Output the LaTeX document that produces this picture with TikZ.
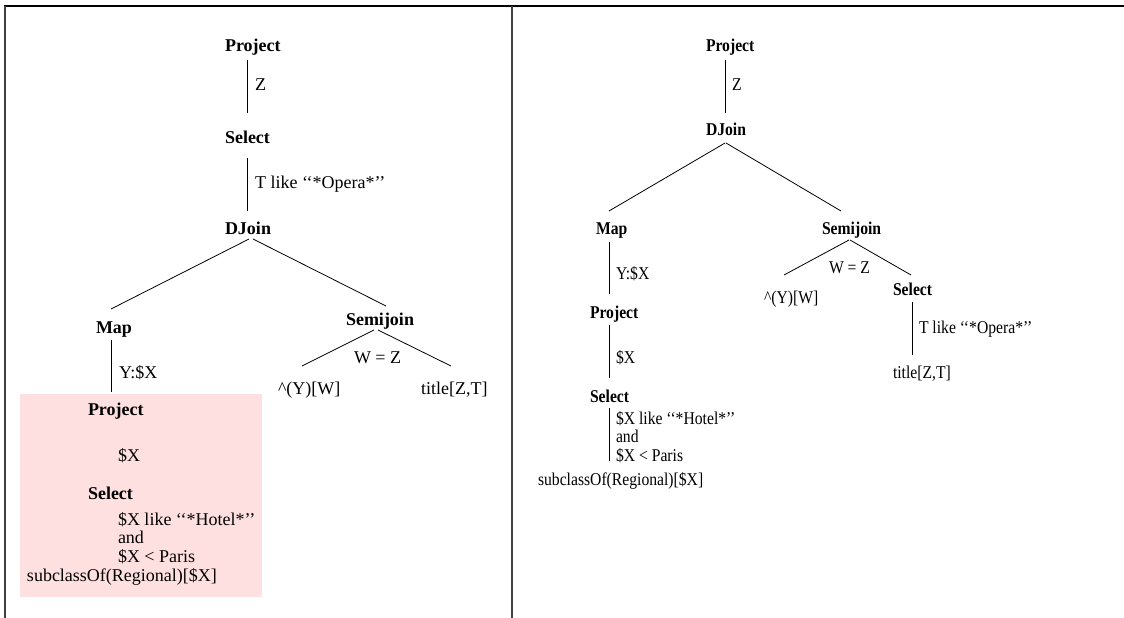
\documentclass[tikz,border=0pt]{standalone}
\usepackage{fontspec}
\setmainfont{Liberation Serif}
\newfontfamily\rfont{Liberation Serif}[FakeStretch=0.87]
\usetikzlibrary{calc}
\definecolor{pinkbg}{RGB}{255,224,224}
\tikzset{
  txt/.style={anchor=base west, inner sep=0pt, outer sep=0pt, font=\fontsize{18}{18.5}\selectfont},
  op/.style={txt, font=\fontsize{18}{18.5}\selectfont\bfseries},
  rtxt/.style={anchor=base west, inner sep=0pt, outer sep=0pt, font=\rfont\fontsize{18}{18.5}\selectfont},
  rop/.style={rtxt, font=\rfont\fontsize{18}{18.5}\selectfont\bfseries},
  edge/.style={draw=black, line width=0.8pt},
  frame/.style={draw=black, line width=1.5pt},
  vframe/.style={draw=black!75, line width=1.1pt}
}
\begin{document}
\begin{tikzpicture}[x=1pt,y=-1pt]
\useasboundingbox (0,0) rectangle (1124,618);
% frame
\coordinate (ftl) at (4,6);
\coordinate (ftr) at (1124,6);
\coordinate (flt) at (5,6);
\coordinate (flb) at (5,618);
\coordinate (fmt) at (512,6);
\coordinate (fmb) at (512,618);
\draw[frame] (ftl) -- (ftr);
\draw[vframe] (flt) -- (flb);
\draw[vframe] (fmt) -- (fmb);

% ---------------- left panel ----------------
\node (hl) [fill=pinkbg, minimum width=242pt, minimum height=203pt, anchor=north west, inner sep=0pt] at (20,394) {};

\node[op]  (lp)  at (225,52)  {Project};
\node[txt] (lz)  at (255,90)  {Z};
\node[op]  (ls)  at (225,143) {Select};
\node[txt] (lt)  at (255,188) {T like {‘}{‘}*Opera*{’}{’}};
\node[op]  (ldj) at (225,234) {DJoin};
\node[op]  (lm)  at (96,333)  {Map};
\node[txt] (lyx) at (119,378) {Y:\$X};
\node[op]  (lsj) at (346,325) {Semijoin};
\node[txt] (lwz) at (354,363) {W = Z};
\node[txt] (lyw) at (278,394) {\textasciicircum(Y)[W]};
\node[txt] (ltt) at (421,394) {title[Z,T]};

\node[op]  (lp2) at (88,415)  {Project};
\node[txt] (lx2) at (118,461) {\$X};
\node[op]  (ls2) at (88,499)  {Select};
\node[txt] (lc1) at (118,525) {\$X like {‘}{‘}*Hotel*{’}{’}};
\node[txt] (lc2) at (118,543) {and};
\node[txt] (lc3) at (118,562) {\$X < Paris};
\node[txt] (lsc) at (27,581)  {subclassOf(Regional)[\$X]};

\draw[edge] ($(lp.base west)+(22,8)$)  -- ($(ls.base west)+(22,-30)$);
\draw[edge] ($(ls.base west)+(22,15)$) -- ($(ldj.base west)+(22,-23)$);
\draw[edge] ($(ldj.base west)+(24,5)$) -- ($(lm.base west)+(15,-24)$);
\draw[edge] ($(ldj.base west)+(28,5)$) -- ($(lsj.base west)+(40,-19)$);
\draw[edge] ($(lm.base west)+(15,7)$)  -- ($(lp2.base west)+(23,-23)$);
\draw[edge] ($(lsj.base west)+(28,5)$) -- ($(lyw.base west)+(24,-28)$);
\draw[edge] ($(lsj.base west)+(32,5)$) -- ($(ltt.base west)+(30,-28)$);

% ---------------- right panel ----------------
\node[rop]  (rp)  at (706,52)  {Project};
\node[rtxt] (rz)  at (732,90)  {Z};
\node[rop]  (rdj) at (706,135) {DJoin};
\node[rop]  (rm)  at (596,234) {Map};
\node[rop]  (rsj) at (822,234) {Semijoin};
\node[rtxt] (ryx) at (616,279) {Y:\$X};
\node[rtxt] (rwz) at (829,273) {W = Z};
\node[rtxt] (ryw) at (764,303) {\textasciicircum(Y)[W]};
\node[rop]  (rs)  at (893,295) {Select};
\node[rtxt] (rt)  at (919,333) {T like {‘}{‘}*Opera*{’}{’}};
\node[rtxt] (rtt) at (893,378) {title[Z,T]};
\node[rop]  (rp2) at (590,318) {Project};
\node[rtxt] (rx2) at (616,363) {\$X};
\node[rop]  (rs2) at (590,402) {Select};
\node[rtxt] (rc1) at (616,424) {\$X like {‘}{‘}*Hotel*{’}{’}};
\node[rtxt] (rc2) at (616,442) {and};
\node[rtxt] (rc3) at (616,461) {\$X < Paris};
\node[rtxt] (rsc) at (538,485) {subclassOf(Regional)[\$X]};

\draw[edge] ($(rp.base west)+(19,8)$)  -- ($(rdj.base west)+(19,-22)$);
\draw[edge] ($(rdj.base west)+(19,8)$) -- ($(rm.base west)+(13,-23)$);
\draw[edge] ($(rdj.base west)+(20,8)$) -- ($(rsj.base west)+(19,-23)$);
\draw[edge] ($(rm.base west)+(13,8)$)  -- ($(rp2.base west)+(19,-24)$);
\draw[edge] ($(rsj.base west)+(27,6)$) -- ($(ryw.base west)+(20,-28)$);
\draw[edge] ($(rsj.base west)+(28,6)$) -- ($(rs.base west)+(18,-20)$);
\draw[edge] ($(rs.base west)+(19,7)$)  -- ($(rtt.base west)+(19,-23)$);
\draw[edge] ($(rp2.base west)+(19,7)$) -- ($(rs2.base west)+(19,-24)$);
\draw[edge] ($(rs2.base west)+(19,6)$) -- ($(rsc.base west)+(71,-24)$);
\end{tikzpicture}
\end{document}
